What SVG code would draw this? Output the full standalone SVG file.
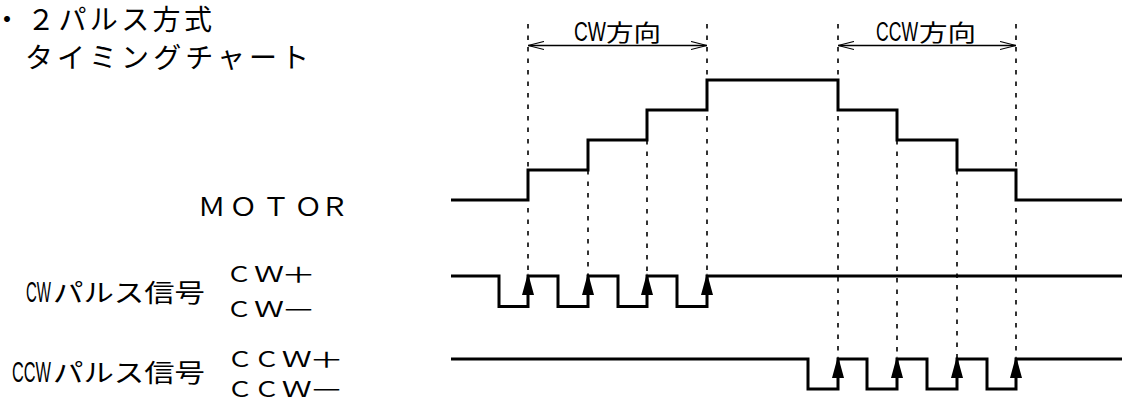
<svg xmlns="http://www.w3.org/2000/svg" width="1125" height="400" viewBox="0 0 1125 400">
<defs>
<style>
.t{font-family:"Noto Sans CJK JP","Noto Sans",sans-serif;fill:#000}
.l{font-family:"Liberation Sans","Noto Sans CJK JP",sans-serif}
.sig{fill:none;stroke:#000;stroke-width:3;stroke-linejoin:miter;stroke-linecap:butt}
.dash{fill:none;stroke:#000;stroke-width:1.6;stroke-dasharray:4.5 7}
.dim{fill:none;stroke:#000;stroke-width:1.3}
.head{fill:#000}
</style>
<marker id="open" viewBox="0 0 16 10" refX="16" refY="5" markerWidth="16" markerHeight="10" markerUnits="userSpaceOnUse" orient="auto-start-reverse">
<path d="M0,1 L16,5 L0,9" fill="none" stroke="#000" stroke-width="1.2"/>
</marker>
<path id="up" d="M0,0 L6,22 L-6,22 Z"/>
</defs>
<rect width="1125" height="400" fill="#fff"/>
<g id="title" class="t" font-size="28">
<text y="30"><tspan x="-7">・</tspan><tspan x="27" textLength="185" lengthAdjust="spacing">２パルス方式</tspan></text>
<text x="25" y="68" textLength="284" lengthAdjust="spacing">タイミングチャート</text>
</g>
<g id="label-motor">
<text class="t" y="215.7" font-size="25"><tspan x="197.7" textLength="28" lengthAdjust="spacingAndGlyphs">Ｍ</tspan><tspan x="229.3" textLength="28" lengthAdjust="spacingAndGlyphs">Ｏ</tspan><tspan x="262" textLength="28" lengthAdjust="spacingAndGlyphs">Ｔ</tspan><tspan x="294.3" textLength="28" lengthAdjust="spacingAndGlyphs">Ｏ</tspan><tspan x="320.5" textLength="28" lengthAdjust="spacingAndGlyphs">Ｒ</tspan></text>
</g>
<g id="label-cw">
<text class="t" y="301.5" font-size="25"><tspan class="l" x="26" font-size="30" textLength="25" lengthAdjust="spacingAndGlyphs">CW</tspan><tspan x="53" textLength="152" lengthAdjust="spacingAndGlyphs">パルス信号</tspan></text>
<text class="t" y="281.7" font-size="21"><tspan x="226" textLength="26" lengthAdjust="spacingAndGlyphs">Ｃ</tspan><tspan x="254" textLength="30" lengthAdjust="spacingAndGlyphs">Ｗ</tspan><tspan x="281" textLength="35" lengthAdjust="spacingAndGlyphs">＋</tspan></text>
<text class="t" y="316.7" font-size="21"><tspan x="226" textLength="26" lengthAdjust="spacingAndGlyphs">Ｃ</tspan><tspan x="254" textLength="30" lengthAdjust="spacingAndGlyphs">Ｗ</tspan><tspan x="281" textLength="35" lengthAdjust="spacingAndGlyphs">－</tspan></text>
</g>
<g id="label-ccw">
<text class="t" y="381.5" font-size="25"><tspan class="l" x="12" font-size="30" textLength="39" lengthAdjust="spacingAndGlyphs">CCW</tspan><tspan x="53" textLength="152" lengthAdjust="spacingAndGlyphs">パルス信号</tspan></text>
<text class="t" y="366.7" font-size="21"><tspan x="227" textLength="26" lengthAdjust="spacingAndGlyphs">Ｃ</tspan><tspan x="253.7" textLength="26" lengthAdjust="spacingAndGlyphs">Ｃ</tspan><tspan x="281.7" textLength="30" lengthAdjust="spacingAndGlyphs">Ｗ</tspan><tspan x="309" textLength="35" lengthAdjust="spacingAndGlyphs">＋</tspan></text>
<text class="t" y="397" font-size="21"><tspan x="227" textLength="26" lengthAdjust="spacingAndGlyphs">Ｃ</tspan><tspan x="253.7" textLength="26" lengthAdjust="spacingAndGlyphs">Ｃ</tspan><tspan x="281.7" textLength="30" lengthAdjust="spacingAndGlyphs">Ｗ</tspan><tspan x="309" textLength="35" lengthAdjust="spacingAndGlyphs">－</tspan></text>
</g>
<g id="dim-cw">
<text class="t" y="41" font-size="23"><tspan class="l" x="574" font-size="27" textLength="32" lengthAdjust="spacingAndGlyphs">CW</tspan><tspan x="606" textLength="55" lengthAdjust="spacingAndGlyphs">方向</tspan></text>
</g>
<g id="dim-ccw">
<text class="t" y="41" font-size="23"><tspan class="l" x="876" font-size="27" textLength="42" lengthAdjust="spacingAndGlyphs">CCW</tspan><tspan x="919" textLength="57" lengthAdjust="spacingAndGlyphs">方向</tspan></text>
</g>
<g id="signal-motor"><path class="sig" d="M451,200 H528 V170 H588 V140 H647 V110 H707 V80 H838 V110 H897 V140 H957 V170 H1016 V200 H1122"/></g>
<g id="signal-cw"><path class="sig" d="M451,276 H499 V306.5 H528 V276 H558 V306.5 H588 V276 H618 V306.5 H647 V276 H677 V306.5 H707 V276 H1122"/></g>
<g id="signal-ccw"><path class="sig" d="M451,359 H808 V389 H838 V359 H867 V389 H897 V359 H927 V389 H957 V359 H987 V389 H1016 V359 H1122"/></g>
<g id="connectors">
<path class="dash" d="M528,24 V276 M588,170 V276 M647,140 V276 M707,24 V276 M838,24 V359 M897,140 V359 M957,170 V359 M1016,24 V359"/>
<line class="dim" x1="528" y1="45.5" x2="707" y2="45.5" marker-start="url(#open)" marker-end="url(#open)"/>
<line class="dim" x1="838" y1="45.5" x2="1016" y2="45.5" marker-start="url(#open)" marker-end="url(#open)"/>
<g class="head">
<use href="#up" x="528" y="273"/><use href="#up" x="588" y="273"/><use href="#up" x="647" y="273"/><use href="#up" x="707" y="273"/>
<use href="#up" x="838" y="356"/><use href="#up" x="897" y="356"/><use href="#up" x="957" y="356"/><use href="#up" x="1016" y="356"/>
</g>
</g>
</svg>
